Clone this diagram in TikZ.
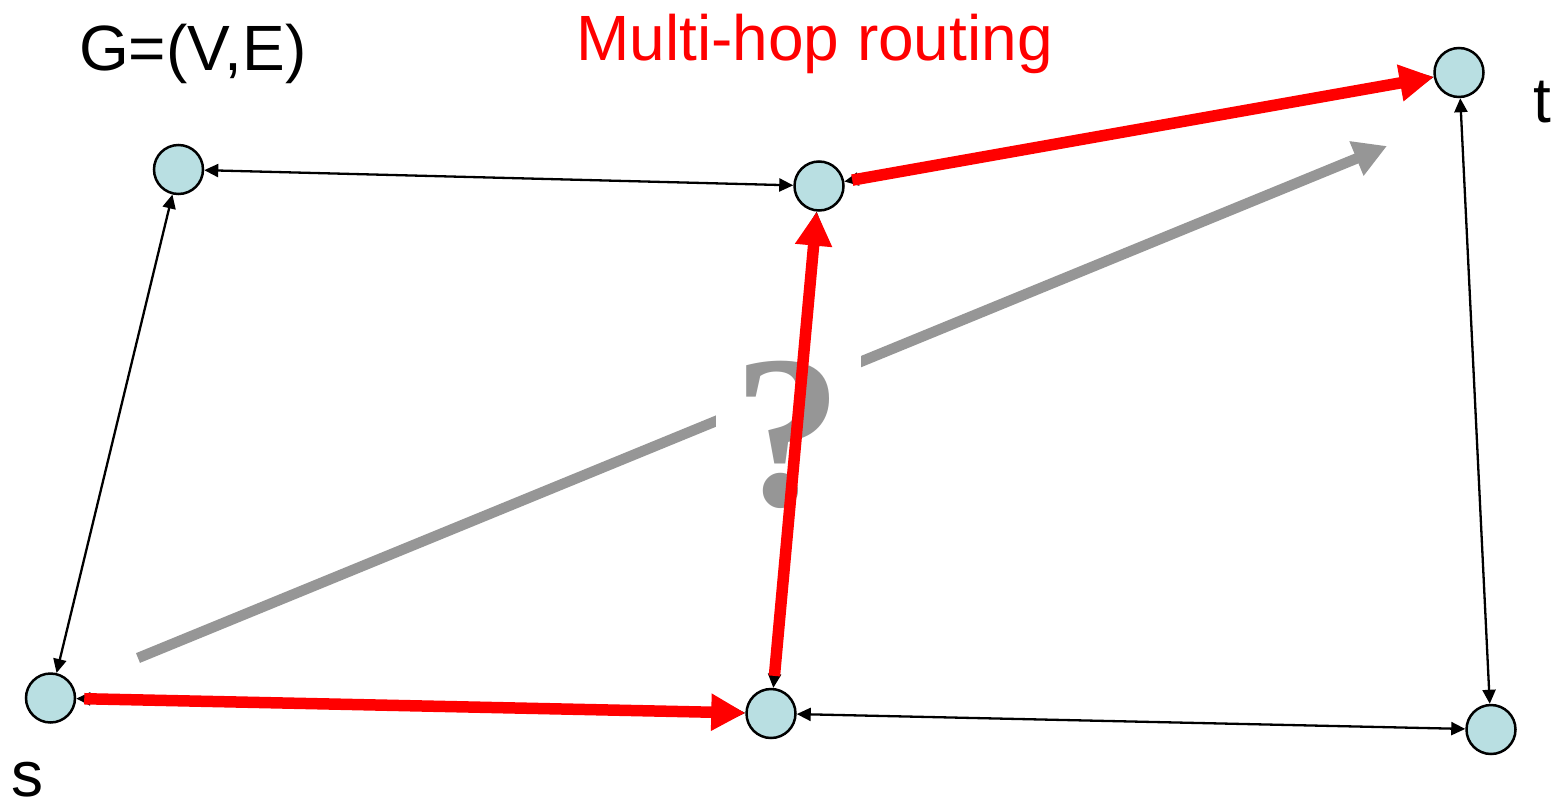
\documentclass[tikz,border=0pt]{standalone}
\usepackage{fontspec}
\setmainfont{Liberation Sans}
\newfontfamily\qfont{Liberation Serif}
\usetikzlibrary{arrows.meta}
\definecolor{nodefill}{HTML}{B9DFE2}
\definecolor{qgray}{HTML}{969696}
\definecolor{pred}{HTML}{FF0000}
\tikzset{
  vtx/.style={circle, draw=black, line width=2.5pt, fill=nodefill, minimum size=49pt, inner sep=0pt},
  blk/.style={line width=2.3pt, draw=black, {Triangle[length=14pt,width=13pt]}-{Triangle[length=14pt,width=13pt]}},
  redarr/.style={line width=11.5pt, draw=pred, -{Triangle[length=34pt,width=35pt]}},
  grayarr/.style={line width=10.5pt, draw=qgray, -{Triangle[length=33pt,width=35pt]}},
  lbl/.style={inner sep=0pt, anchor=base west, font=\fontsize{64}{70}\selectfont}
}
\begin{document}
\begin{tikzpicture}[x=1pt,y=-1pt]
\useasboundingbox[fill=white] (0,0) rectangle (1558,806);
% gray direct arrow
\coordinate (g1) at (138,658);
\coordinate (g2) at (1387,146);
\draw[grayarr] (g1) -- (g2);
\node[fill=white, minimum width=145pt, minimum height=170pt, inner sep=0pt, text=qgray,
      font=\qfont\bfseries\fontsize{218}{222}\selectfont] (q) at (788,435) {?};
% vertices
\node[vtx] (A) at (178.5,169.5) {};
\node[vtx] (B) at (819,186) {};
\node[vtx] (T) at (1459,72.5) {};
\node[vtx] (S) at (50.5,698) {};
\node[vtx] (M) at (771,713.5) {};
\node[vtx] (R) at (1491,729.5) {};
% labels
\node[lbl] (glbl) at (79,70) {G=(V,E)};
\node[lbl, text=pred] (title) at (576,60) {Multi-hop routing};
\node[lbl] (tlbl) at (1533,122) {t};
\node[lbl] (slbl) at (11,796) {s};
% black edges
\draw[blk] (A) -- (B);
\draw[blk] (A) -- (S);
\draw[blk] (M) -- (R);
\draw[blk] (T) -- (R);
\draw[blk] (S) -- (M);
\draw[blk] (M) -- (B);
\draw[blk] (B) -- (T);
% red path
\draw[redarr, shorten <=8pt] (S) -- (M);
\draw[redarr, shorten <=12pt] (M) -- (B);
\draw[redarr, shorten <=8pt] (B) -- (T);
\end{tikzpicture}
\end{document}
